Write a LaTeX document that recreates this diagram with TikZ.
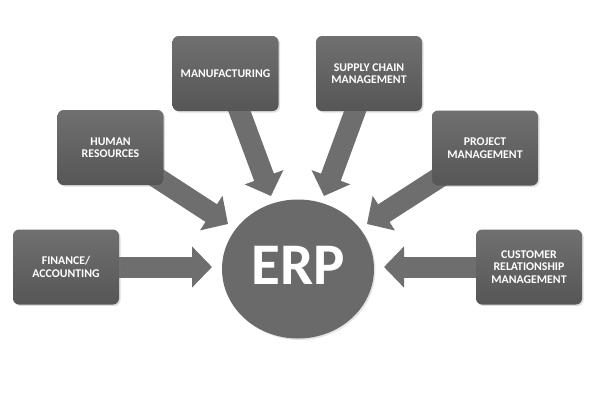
\documentclass[tikz,border=0pt]{standalone}
\usepackage{fontspec}
\setmainfont{Carlito}
\usetikzlibrary{arrows.meta,shapes.geometric,shadows,backgrounds}
\definecolor{boxtop}{RGB}{112,112,112}
\definecolor{boxbot}{RGB}{86,86,86}
\definecolor{arrowgray}{RGB}{110,110,110}
\definecolor{erpgray}{RGB}{106,106,106}
\tikzset{
  modbox/.style={rectangle, rounded corners=6pt, minimum width=106pt, minimum height=75pt,
    inner sep=0pt, top color=boxtop, bottom color=boxbot, draw=none,
    drop shadow={opacity=0.25, shadow xshift=1.5pt, shadow yshift=-1.5pt},
    text=white, font=\fontsize{11.8}{12.5}\selectfont\bfseries, align=center},
  erpnode/.style={ellipse, minimum width=152pt, minimum height=139pt, inner sep=0pt,
    fill=erpgray, draw=none,
    drop shadow={opacity=0.2, shadow xshift=1.5pt, shadow yshift=-1.5pt}},
  erptextstyle/.style={text=white, font=\fontsize{59}{64}\selectfont\bfseries, inner sep=0pt},
  bigarrow/.style={draw=arrowgray, line width=21pt, line cap=butt,
    -{Triangle[length=20pt,width=40pt,fill=arrowgray]}}
}
\begin{document}
\begin{tikzpicture}[x=1pt,y=-1pt]
\useasboundingbox (0,0) rectangle (600,400);
% centre
\node[erpnode] (erp) at (298,269) {};
\node[erptextstyle] (erptext) at (298,265) {ERP};
% modules
\node[modbox] (fin)  at (66,267)    {FINANCE/\\ACCOUNTING};
\node[modbox] (hr)   at (110.5,147.5) {HUMAN\\RESOURCES};
\node[modbox] (man)  at (225.5,73.5) {MANUFACTURING};
\node[modbox] (scm)  at (369,73.5)  {SUPPLY CHAIN\\MANAGEMENT};
\node[modbox] (pm)   at (485,148)   {PROJECT\\MANAGEMENT};
\node[modbox] (crm)  at (529,267)   {CUSTOMER\\RELATIONSHIP\\MANAGEMENT};
% arrow tips
\coordinate (fintip) at (212,267);
\coordinate (hrtip)  at (228,224);
\coordinate (mantip) at (271,196);
\coordinate (scmtip) at (324,196);
\coordinate (pmtip)  at (367,224);
\coordinate (crmtip) at (384,267);
\begin{pgfonlayer}{background}
\fill[white] (0,0) rectangle (600,400);
\draw[bigarrow] (fin.center) -- (fintip);
\draw[bigarrow] (hr.center) -- (hrtip);
\draw[bigarrow] (man.center) -- (mantip);
\draw[bigarrow] (scm.center) -- (scmtip);
\draw[bigarrow] (pm.center) -- (pmtip);
\draw[bigarrow] (crm.center) -- (crmtip);
\end{pgfonlayer}
\end{tikzpicture}
\end{document}
